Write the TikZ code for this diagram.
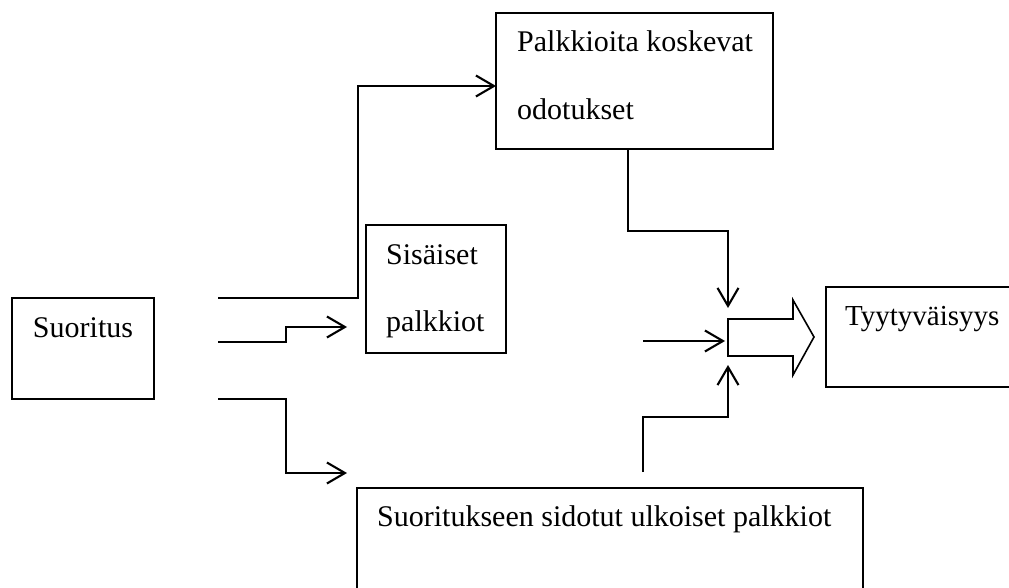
\documentclass[tikz,border=0pt]{standalone}
\usepackage{fontspec}
\setmainfont{Liberation Serif}
\usetikzlibrary{arrows.meta}
\begin{document}
\begin{tikzpicture}[x=1pt,y=-1pt,
  box/.style={draw, line width=1.6pt, inner sep=0pt, outer sep=0pt},
  txt/.style={font=\fontsize{30}{36}\selectfont, inner sep=0pt},
  conn/.style={line width=2.1pt, line join=miter,
    -{Straight Barb[length=18pt,width=21pt,line width=2.1pt]}}]
\useasboundingbox (0,0) rectangle (1009,588);
\clip (0,0) rectangle (1009,588);

% boxes
\node[box, minimum width=142pt, minimum height=101pt] (suor) at (83,348.5) {};
\node[box, minimum width=277pt, minimum height=136pt] (palk) at (634.5,81) {};
\node[box, minimum width=140pt, minimum height=128pt] (sis) at (436,289) {};
\node[box, minimum width=506pt, minimum height=140pt] (ulk) at (610,558) {};
\node[box, minimum width=200pt, minimum height=100pt] (tyy) at (926,337) {};

% texts
\node[txt, anchor=base] (suorT) at (83,337) {Suoritus};
\node[txt, anchor=base west] (palkT1) at (517,52) {Palkkioita koskevat};
\node[txt, anchor=base west] (palkT2) at (517,120) {odotukset};
\node[txt, anchor=base west] (sisT1) at (386,264) {Sisäiset};
\node[txt, anchor=base west] (sisT2) at (386,331) {palkkiot};
\node[txt, anchor=base west] (ulkT) at (377,526) {Suoritukseen sidotut ulkoiset palkkiot};
\node[txt, anchor=base west, font=\fontsize{29}{35}\selectfont] (tyyT) at (845,325) {Tyytyväisyys};

% block arrow towards satisfaction
\draw[line width=1.6pt, line join=miter]
  (728,319) -- (793,319) -- (793,300) -- (814,337) -- (793,375)
  -- (793,356) -- (728,356) -- cycle;

% connector end points
\coordinate (s1) at (218,298);
\coordinate (s2) at (218,342);
\coordinate (s3) at (218,399);
\coordinate (e2) at (347,327);
\coordinate (e3) at (347,473);
\coordinate (mT) at (728,308);
\coordinate (mL) at (725,341);
\coordinate (mB) at (728,365);
\coordinate (mLs) at (643,341);
\coordinate (kb) at (643,472);

% connectors
\draw[conn] (s1) -- (358,298) |- ([yshift=-5pt]palk.west);
\draw[conn] (s2) -- (286,342) |- (e2);
\draw[conn] (s3) -- (286,399) |- (e3);
\draw[conn] ([xshift=-6.5pt]palk.south) -- ++(0,82) -| (mT);
\draw[conn] (mLs) -- (mL);
\draw[conn] (kb) -- (643,417) -| (mB);
\end{tikzpicture}
\end{document}
